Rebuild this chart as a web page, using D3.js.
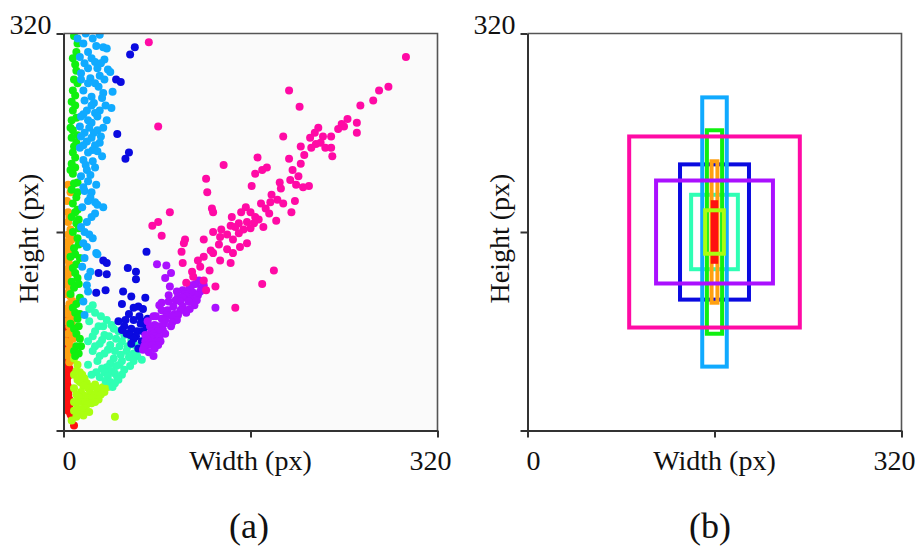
<!doctype html>
<html>
<head>
<meta charset="UTF-8">
<title>Box sizes</title>
<script src="https://d3js.org/d3.v7.min.js"></script>
<style>
  body { margin: 0; background: #fff; }
  text { font-family: "Liberation Serif", "Times New Roman", serif; fill: #111; }
</style>
</head>
<body>
<svg id="chart" width="915" height="546"></svg>
<script>
// colour of each cluster, red -> pink
var clusterColors = ["#ff1010", "#ffa010", "#aaff10", "#10f010", "#2effb4", "#10aaff", "#0a0ae0", "#aa10ff", "#ff0aa5"];

// (a) box sizes [width, height] in px, one list per cluster
var red = [[2,93],[1,90],[3,88],[2,85],[4,82],[1,80],[2,78],[3,75],[5,73],[2,72],[1,70],[4,68],[3,66],[2,64],[5,62],[1,60],[4,58],[3,57],[2,55],[1,53],[5,50],[2,47],[5,45],[4,44],[1,42],[3,41],[3,38],[4,35],[1,35],[5,33],[2,31],[4,29],[3,28],[1,27],[5,25],[3,24],[6,22],[2,21],[5,18],[4,16],[6,13],[7,11],[9,4]];
var orange = [[4,198],[6,192],[3,185],[4,176],[5,172],[4,168],[6,162],[4,158],[7,154],[3,152],[5,150],[2,146],[7,144],[2,142],[6,140],[4,137],[5,134],[3,130],[7,128],[4,126],[3,122],[7,118],[2,118],[5,114],[2,110],[6,108],[8,104],[5,102],[2,98],[6,96],[4,94],[8,90],[3,88],[7,86],[5,84],[6,80],[4,78],[8,74],[2,72],[5,70],[6,66],[3,64],[7,62],[4,60],[8,57],[5,55]];
var chartreuse = [[9,64],[9,58],[12,53],[11,48],[14,47],[16,45],[9,45],[18,42],[12,41],[14,39],[20,38],[27,37],[17,36],[38,35],[24,35],[34,35],[9,34],[21,34],[32,34],[29,33],[35,31],[15,31],[23,30],[27,29],[32,29],[11,29],[18,28],[13,27],[21,26],[25,26],[30,25],[9,23],[15,23],[19,23],[27,23],[24,22],[11,22],[20,21],[18,18],[12,17],[15,17],[9,16],[22,15],[13,13],[17,12],[11,11],[44,11],[7,8]];
var green = [[9,318],[12,312],[11,305],[8,300],[10,295],[11,290],[9,283],[12,280],[8,274],[10,270],[7,265],[10,262],[8,258],[11,252],[7,250],[6,244],[8,242],[12,238],[7,236],[11,232],[9,229],[8,224],[10,220],[7,215],[10,212],[6,210],[8,207],[12,200],[9,199],[7,194],[12,192],[11,188],[8,183],[12,178],[10,176],[7,172],[13,170],[11,167],[13,163],[8,160],[12,155],[13,150],[9,147],[10,142],[6,140],[14,139],[11,134],[8,131],[10,127],[12,123],[7,120],[13,118],[9,115],[6,110],[14,107],[11,102],[8,99],[10,95],[14,94],[12,90],[6,86],[13,84],[9,82],[11,78],[14,74],[11,68],[15,68],[9,64],[13,62],[10,60]];
var teal = [[25,101],[22,98],[27,95],[32,92],[37,89],[22,88],[41,85],[30,84],[34,84],[43,82],[27,80],[47,80],[35,77],[52,77],[25,76],[39,76],[45,74],[21,72],[33,73],[58,73],[50,72],[31,70],[40,69],[61,69],[55,68],[48,68],[27,68],[64,65],[38,65],[25,64],[44,64],[54,64],[35,62],[60,62],[49,61],[63,60],[31,60],[56,59],[43,58],[67,57],[29,56],[50,56],[60,56],[40,54],[21,53],[48,53],[45,52],[57,52],[37,51],[33,50],[52,49],[41,48],[35,47],[28,47],[44,46],[24,45],[50,45],[38,44],[31,43],[46,43],[47,41],[36,40],[40,39],[44,38],[42,35]];
var sky = [[31,319],[19,320],[12,316],[25,316],[17,312],[28,310],[34,309],[37,308],[21,305],[14,301],[24,300],[35,299],[27,297],[18,296],[32,296],[21,292],[29,292],[38,291],[40,289],[15,288],[31,286],[23,284],[35,283],[15,283],[21,280],[27,280],[30,277],[17,274],[42,273],[34,272],[24,269],[33,268],[18,266],[26,264],[24,262],[36,262],[41,260],[20,258],[31,258],[27,256],[17,255],[15,253],[29,253],[21,250],[37,250],[24,248],[14,245],[22,244],[34,244],[29,242],[18,240],[26,240],[32,237],[15,237],[24,236],[20,233],[31,232],[27,230],[17,230],[14,228],[25,226],[29,225],[21,224],[33,221],[17,218],[25,217],[19,214],[27,212],[20,210],[23,206],[15,205],[21,201],[28,198],[17,196],[18,193],[24,192],[23,188],[21,185],[27,184],[29,182],[16,180],[34,180],[27,175],[24,172],[20,168],[15,164],[18,160],[22,158],[25,155],[17,151],[20,148],[28,143],[29,142],[18,139],[16,132],[23,128],[21,124],[20,117],[21,112],[17,104],[18,93]];
var blue = [[61,309],[57,303],[45,283],[49,281],[46,239],[56,224],[53,219],[71,144],[34,137],[37,135],[55,131],[62,128],[30,127],[37,126],[62,122],[36,113],[51,112],[28,111],[58,108],[70,107],[50,102],[64,100],[60,99],[68,98],[56,94],[65,92],[72,90],[60,89],[53,89],[47,88],[67,88],[66,86],[71,84],[52,84],[58,82],[50,81],[63,80],[68,80],[54,78],[57,77],[62,76],[60,74],[67,72],[58,70],[64,66]];
var purple = [[80,134],[88,133],[92,127],[87,123],[116,121],[113,118],[120,117],[118,115],[91,116],[110,117],[108,115],[102,113],[97,112],[117,112],[106,112],[111,111],[104,110],[90,109],[115,109],[98,108],[105,108],[102,107],[109,106],[96,105],[114,105],[90,104],[100,104],[107,104],[84,103],[82,101],[112,101],[102,100],[94,100],[130,99],[108,98],[100,97],[84,97],[89,97],[105,95],[95,94],[88,93],[98,93],[77,92],[79,92],[93,92],[84,90],[97,89],[87,89],[72,88],[93,87],[86,86],[78,85],[74,84],[82,84],[92,84],[79,82],[85,81],[81,80],[75,80],[77,78],[87,78],[70,77],[71,76],[78,76],[82,75],[75,74],[72,73],[80,72],[83,72],[70,72],[74,70],[71,69],[72,69],[81,69],[76,69],[69,68],[78,66],[68,65],[73,63],[77,60]];
var pink = [[73,313],[293,301],[278,277],[193,274],[270,274],[265,266],[254,262],[202,261],[243,251],[251,248],[238,247],[81,245],[240,245],[218,244],[235,243],[251,240],[215,240],[229,237],[222,237],[188,237],[211,236],[220,232],[216,231],[203,229],[212,228],[224,228],[229,228],[206,222],[230,221],[166,220],[193,219],[203,215],[137,214],[174,212],[170,210],[196,210],[164,207],[201,205],[122,203],[194,202],[185,200],[199,198],[210,197],[161,197],[205,196],[186,195],[123,192],[178,190],[183,186],[198,185],[177,184],[169,183],[188,183],[156,180],[127,179],[173,179],[128,176],[91,176],[195,176],[152,176],[160,176],[176,175],[144,172],[164,172],[167,170],[182,169],[157,168],[81,168],[150,167],[163,167],[76,165],[143,165],[147,164],[171,164],[160,163],[135,162],[154,162],[128,160],[150,159],[140,158],[84,157],[134,156],[104,154],[120,154],[145,154],[103,151],[157,151],[133,150],[151,148],[140,146],[126,145],[101,144],[128,143],[145,143],[120,140],[115,137],[134,137],[102,135],[143,135],[117,132],[125,129],[180,129],[110,128],[111,124],[120,121],[105,119],[170,118],[130,116],[122,113],[147,99]];

var clusters = [red, orange, chartreuse, green, teal, sky, blue, purple, pink];

// (b) mean box of each cluster, same order as clusters
var boxW = [3, 5, 16, 13, 40, 21, 59, 100, 146];
var boxH = [48, 114, 35, 164, 60, 217, 109, 83, 154];
var boxOrder = [4, 6, 5, 3, 1, 0, 2, 7, 8];   // drawing order

var tickVals = [0, 160, 320];
var xTickVals = [0, 320];
var yTickVals = [320];
var xTitle = "Width (px)";
var yTitle = "Height (px)";
var panelNames = ["(a)", "(b)"];

var W = 374, H = 397, TOP = 33.5;
var x = d3.scaleLinear().domain([0, 320]).range([0, W]);
var y = d3.scaleLinear().domain([0, 320]).range([H, 0]);

var svg = d3.select("#chart");

function panel(left, fill, titleOffset) {
  var g = svg.append("g").attr("transform", "translate(" + left + "," + TOP + ")");

  g.append("rect")
    .attr("width", W)
    .attr("height", H)
    .attr("fill", fill);

  var plot = g.append("g");

  // top and right border
  g.append("path")
    .attr("d", "M0,0H" + W + "V" + H)
    .attr("fill", "none")
    .attr("stroke", "#555")
    .attr("stroke-width", 1.6);

  g.append("g")
    .attr("transform", "translate(0," + H + ")")
    .call(d3.axisBottom(x).tickValues(tickVals).tickSize(7).tickSizeOuter(0).tickFormat(""));
  g.append("g")
    .call(d3.axisLeft(y).tickValues(tickVals).tickSize(7).tickSizeOuter(0).tickFormat(""));
  g.selectAll(".domain, .tick line")
    .attr("stroke", "#333")
    .attr("stroke-width", 2);

  g.selectAll(null)
    .data(xTickVals)
    .enter()
    .append("text")
    .attr("x", function(d) { return d === 0 ? x(d) + 6 : x(d) - 7; })
    .attr("y", H + 39.5)
    .attr("text-anchor", "middle")
    .attr("font-size", 28)
    .text(function(d) { return d; });

  g.selectAll(null)
    .data(yTickVals)
    .enter()
    .append("text")
    .attr("x", -12)
    .attr("y", function(d) { return y(d); })
    .attr("text-anchor", "end")
    .attr("font-size", 28)
    .text(function(d) { return d; });

  g.append("text")
    .attr("x", x(160))
    .attr("y", H + 39.5)
    .attr("text-anchor", "middle")
    .attr("font-size", 28)
    .text(xTitle);

  g.append("text")
    .attr("transform", "translate(" + titleOffset + ",205) rotate(-90)")
    .attr("text-anchor", "middle")
    .attr("font-size", 28)
    .text(yTitle);

  return plot;
}

//(a) scatter of box sizes
svg.append("clipPath").attr("id", "clipA")
  .append("rect").attr("width", W).attr("height", H);

var plotA = panel(63.5, "#fafafa", -26).attr("clip-path", "url(#clipA)");

clusters.forEach(function(pts, ci) {
  plotA.selectAll(null)
    .data(pts)
    .enter()
    .append("circle")
    .attr("cx", function(d) { return x(d[0]); })
    .attr("cy", function(d) { return y(d[1]); })
    .attr("r", 4)
    .attr("fill", clusterColors[ci]);
});

//(b) mean box per cluster, centred in the frame
var plotB = panel(527.5, "#fff", -19);

plotB.selectAll(null)
  .data(boxOrder)
  .enter()
  .append("rect")
  .attr("x", function(i) { return x(160 - boxW[i] / 2); })
  .attr("y", function(i) { return y(160 + boxH[i] / 2); })
  .attr("width", function(i) { return x(boxW[i]) - x(0); })
  .attr("height", function(i) { return y(0) - y(boxH[i]); })
  .attr("fill", "none")
  .attr("stroke", function(i) { return clusterColors[i]; })
  .attr("stroke-width", 4);

// panel names
svg.selectAll(".name")
  .data(panelNames)
  .enter()
  .append("text")
  .attr("class", "name")
  .attr("x", function(d, i) { return i === 0 ? 249 : 710; })
  .attr("y", 538)
  .attr("text-anchor", "middle")
  .attr("font-size", 36)
  .text(function(d) { return d; });
</script>
</body>
</html>
